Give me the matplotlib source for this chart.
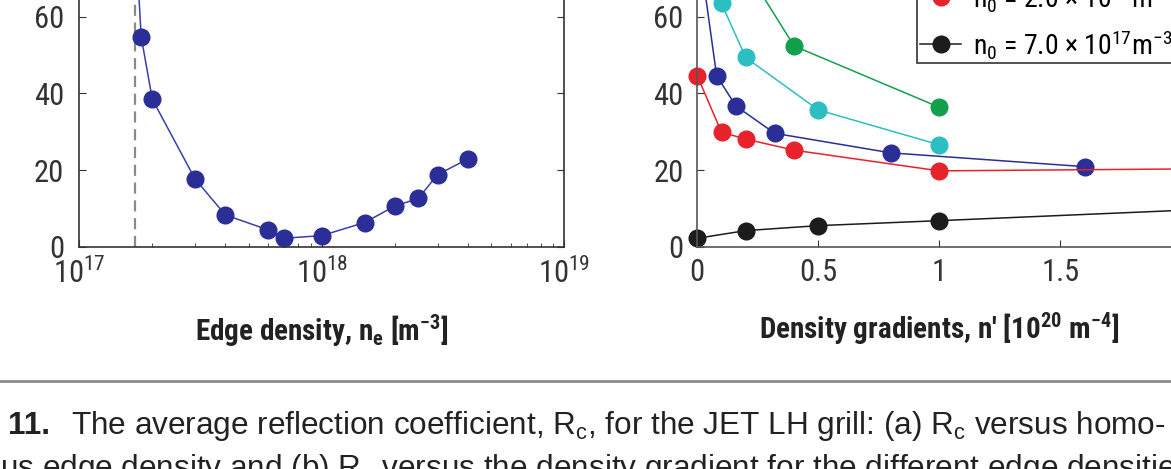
import matplotlib

matplotlib.use("Agg")
import matplotlib.pyplot as plt
from matplotlib import font_manager
from matplotlib.lines import Line2D

# --- data --------------------------------------------------------------
# (a) Rc versus homogeneous edge density
edge_density = [1.73e17, 1.8e17, 2e17, 3e17, 4e17, 6e17, 7e17, 1e18,
                1.5e18, 2e18, 2.5e18, 3e18, 4e18]
rc_edge = [74, 54.8, 38.5, 17.7, 8.3, 4.4, 2.2, 2.9, 6.3, 10.6, 12.6, 18.8, 22.9]
cutoff_density = 1.7e17

# (b) Rc versus density gradient, one series per edge density
grad_green = [0.2, 0.4, 1.0]
rc_green = [72.6, 52.4, 36.4]
grad_cyan = [0.0, 0.1, 0.2, 0.5, 1.0]
rc_cyan = [80, 63.5, 49.4, 35.7, 26.6]
grad_blue = [0.0, 0.08, 0.16, 0.32, 0.8, 1.6]
rc_blue = [81, 44.6, 36.7, 29.6, 24.5, 20.9]
grad_red = [0.0, 0.1, 0.2, 0.4, 1.0, 2.0]
rc_red = [44.6, 29.9, 28.1, 25.2, 19.8, 20.3]
grad_black = [0.0, 0.2, 0.5, 1.0, 2.0]
rc_black = [2.2, 4.2, 5.5, 6.8, 9.5]

grad_ticks = [0, 0.5, 1, 1.5]
label_red = r"n$_0$ = 2.0 $\times$ 10$^{17}$m$^{-3}$"
label_black = r"n$_0$ = 7.0 $\times$ 10$^{17}$m$^{-3}$"

caption_1 = r"The average reflection coefficient, R$_c$, for the JET LH grill: (a) R$_c$ versus homo-"
caption_2 = r"us edge density and (b) R$_c$ versus the density gradient for the different edge densities"


# --- fonts -------------------------------------------------------------
def first_font(candidates, fallback):
    """First candidate family that is installed with a bold face too."""
    bold = {f.name for f in font_manager.fontManager.ttflist
            if isinstance(f.weight, int) and f.weight >= 700 and f.style == "normal"}
    for name in candidates:
        if name in bold:
            return name
    return fallback


NARROW = [first_font(["Liberation Sans Narrow", "Arial Narrow", "Roboto Condensed",
                      "Archivo Narrow", "PT Sans Narrow",
                      "IBM Plex Sans Condensed"], "Liberation Sans"), "DejaVu Sans"]
CAP = [first_font(["Nimbus Sans", "Helvetica", "Arimo", "Liberation Sans"],
                  "DejaVu Sans"), "DejaVu Sans"]

plt.rcParams["font.family"] = NARROW
plt.rcParams["mathtext.default"] = "regular"
plt.rcParams["axes.linewidth"] = 1.2

W, H, DPI = 1171, 469, 100
fig = plt.figure(figsize=(W / DPI, H / DPI), dpi=DPI)


def px_axes(left, right, bottom, top):
    """Axes from pixel edges measured from the top-left corner."""
    return fig.add_axes([left / W, (H - bottom) / H,
                         (right - left) / W, (bottom - top) / H])


# y scale 3.83 px per unit, ylim 0..100 -> axes run above the crop
ax1 = px_axes(79.3, 564.3, 246.7, 246.7 - 383)
ax2 = px_axes(697.3, 697.3 + 484, 246.7, 246.7 - 383)

dot = dict(marker="o", markersize=12, linewidth=1.1, clip_on=False)

# (a)
ax1.axvline(cutoff_density, color="#8a8a8a", linestyle=(0, (5, 3)), linewidth=1.6)
ax1.plot(edge_density, rc_edge, color="#3b3fae", markerfacecolor="#2a2e96",
         markeredgecolor="#2a2e96", **dot)
ax1.set_xscale("log")
ax1.set_xlim(1e17, 1e19)
ax1.set_ylim(0, 100)
ax1.set_yticks([0, 20, 40, 60, 80, 100])
ax1.tick_params(axis="both", which="both", direction="in", labelsize=22,
                colors="#333333", labelcolor="#333333")
ax1.tick_params(axis="y", right=True, length=5, pad=11)
ax1.tick_params(axis="x", which="major", length=5, pad=8)
ax1.tick_params(axis="x", which="minor", length=3)
for s in ax1.spines.values():
    s.set_color("#333333")
ax1.set_xlabel(r"Edge density, n$_e$ [m$^{-3}$]", fontsize=21,
               fontweight="bold", color="#222222", labelpad=17)

# (b)
series = [
    (grad_green, rc_green, "#13a04c", None),
    (grad_cyan, rc_cyan, "#2cbfc2", None),
    (grad_blue, rc_blue, "#2a2e96", None),
    (grad_red, rc_red, "#e8222b", label_red),
    (grad_black, rc_black, "#1c1c1c", label_black),
]
for gx, gy, col, lab in series:
    ax2.plot(gx, gy, color=col, markerfacecolor=col, markeredgecolor=col,
             label=lab, **dot)
ax2.set_xlim(0, 2)
ax2.set_ylim(0, 100)
ax2.set_xticks(grad_ticks)
ax2.set_xticklabels([f"{t:g}" for t in grad_ticks])
ax2.set_yticks([0, 20, 40, 60, 80, 100])
ax2.tick_params(axis="both", direction="in", length=5, labelsize=22,
                colors="#333333", labelcolor="#333333")
ax2.tick_params(axis="y", right=True, pad=10)
ax2.tick_params(axis="x", pad=8)
for s in ax2.spines.values():
    s.set_color("#555555")
ax2.set_xlabel(r"Density gradients, n' [10$^{20}$ m$^{-4}$]", fontsize=21,
               fontweight="bold", color="#222222", labelpad=17)

handles, labels = ax2.get_legend_handles_labels()
leg = ax2.legend(handles, labels, loc="lower left",
                 bbox_to_anchor=(917 / W, (H - 63.3) / H),
                 bbox_transform=fig.transFigure, borderaxespad=0,
                 fontsize=20, handlelength=1.5, handletextpad=0.4,
                 borderpad=0.1, labelspacing=0.5, fancybox=False,
                 framealpha=1)
leg.get_frame().set_edgecolor("#333333")
leg.get_frame().set_linewidth(1.2)

# caption block
fig.add_artist(Line2D([0, 1], [(H - 380.7) / H] * 2, color="#8a8a8a",
                      linewidth=2.0, transform=fig.transFigure))
fig.text(8 / W, (H - 434) / H, "11.", family=CAP, fontsize=22.7,
         fontweight="bold", color="#222222", va="baseline")
fig.text(71 / W, (H - 434) / H, caption_1, family=CAP, fontsize=22.7,
         color="#222222", va="baseline")
fig.text(0 / W, (H - 477.4) / H, caption_2, family=CAP, fontsize=22.7,
         color="#222222", va="baseline")

fig.savefig("out.png", dpi=DPI)
